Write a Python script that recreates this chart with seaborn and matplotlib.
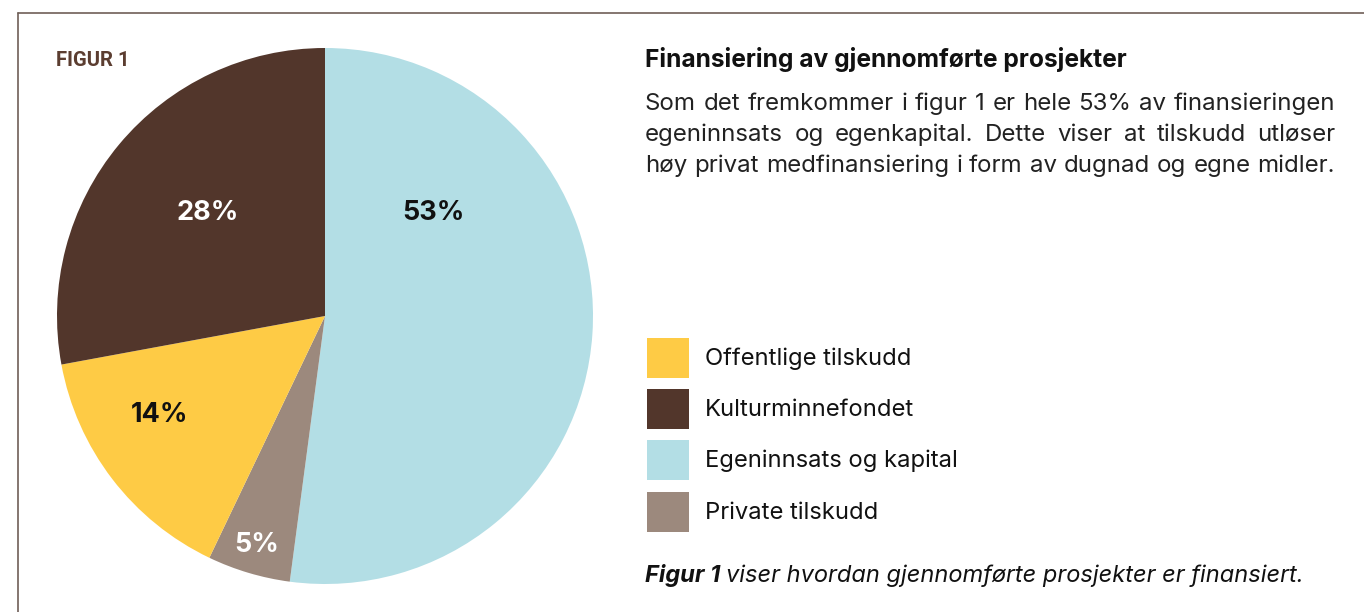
import matplotlib
matplotlib.use("Agg")
import matplotlib.pyplot as plt
import seaborn as sns
from matplotlib.patches import Rectangle
from matplotlib.lines import Line2D
from matplotlib import font_manager as fm

# ---- data ----
categories = ["Egeninnsats og kapital", "Private tilskudd", "Offentlige tilskudd", "Kulturminnefondet"]
shares = [52.1, 5.0, 15.0, 27.9]
pct_labels = ["53%", "5%", "14%", "28%"]
legend_order = ["Offentlige tilskudd", "Kulturminnefondet", "Egeninnsats og kapital", "Private tilskudd"]

fig_label = "FIGUR 1"
title = "Finansiering av gjennomførte prosjekter"
body_lines = [
    "Som det fremkommer i figur 1 er hele 53% av finansieringen",
    "egeninnsats og egenkapital. Dette viser at tilskudd utløser",
    "høy privat medfinansiering i form av dugnad og egne midler.",
]
caption_bold = "Figur 1"
caption_rest = "viser hvordan gjennomførte prosjekter er finansiert."

# ---- styles ----
colors = {
    "Egeninnsats og kapital": "#b3dee5",
    "Private tilskudd": "#9c897d",
    "Offentlige tilskudd": "#fecb45",
    "Kulturminnefondet": "#52362b",
}
label_colors = ["#111111", "white", "#111111", "white"]
label_xy = [(0.403, 0.384), (-0.254, -0.854), (-0.616, -0.369), (-0.437, 0.384)]

sns.set_theme(style="white")

fl = fm.fontManager.ttflist


def has(name, style="normal"):
    return any(f.name == name and f.style == style for f in fl)


main_font = "Inter" if has("Inter") else "Lato"
italic_font = main_font if has(main_font, "italic") else "Open Sans"
plt.rcParams["font.family"] = [main_font, "DejaVu Sans"]

W, H = 1364, 612
fig = plt.figure(figsize=(W / 100, H / 100), dpi=100)
fig.patch.set_facecolor("white")
renderer = fig.canvas.get_renderer()


def fx(px):
    return px / W


def fy(py):
    return 1 - py / H


# frame lines (top and left)
frame_col = "#6f5f58"
fig.add_artist(Line2D([fx(18), 1.0], [fy(13), fy(13)], color=frame_col, lw=1.2))
fig.add_artist(Line2D([fx(18), fx(18)], [fy(13), 0.0], color=frame_col, lw=1.2))

# pie
ax = fig.add_axes([57 / W, 28 / H, 536 / W, 536 / H])
palette = sns.color_palette([colors[c] for c in categories])
ax.pie(shares, colors=palette, startangle=90, counterclock=False, radius=1,
       wedgeprops=dict(linewidth=0))
ax.set_xlim(-1, 1)
ax.set_ylim(-1, 1)
ax.set_aspect("equal")
ax.axis("off")
for lab, (x, y), c in zip(pct_labels, label_xy, label_colors):
    ax.text(x, y, lab, ha="center", va="center", color=c, fontsize=19.5, fontweight="bold")

# figure label, sized to roughly its width in the reference
tl = fig.text(fx(56), fy(66), fig_label, ha="left", va="baseline", color="#5b3d30",
              fontsize=14, fontweight="bold", family=["Roboto", "DejaVu Sans"])
wl = tl.get_window_extent(renderer).width
tl.set_fontsize(min(16.0, 14 * 74 / wl))

# title
fig.text(fx(645), fy(67), title, ha="left", va="baseline", color="#111111",
         fontsize=17.7, fontweight="bold")


def justified(line, x0, x1, ybase, **kw):
    words = line.split()
    texts = [fig.text(0, fy(ybase), w, va="baseline", ha="left", **kw) for w in words]
    widths = [t.get_window_extent(renderer).width for t in texts]
    gap = (x1 - x0 - sum(widths)) / (len(words) - 1)
    x = x0
    for t, w in zip(texts, widths):
        t.set_x(fx(x))
        x += w + gap


for i, line in enumerate(body_lines):
    justified(line, 645, 1335, 110 + 31 * i, fontsize=17.3, color="#222222")

# legend
sq_top = [338, 389, 440, 492]
for cat, top in zip(legend_order, sq_top):
    fig.add_artist(Rectangle((fx(647), fy(top + 40)), 42 / W, 40 / H,
                             transform=fig.transFigure, facecolor=colors[cat], edgecolor="none"))
    fig.text(fx(705), fy(top + 27), cat, ha="left", va="baseline", fontsize=17.1, color="#111111")

# caption
t1 = fig.text(fx(645), fy(582), caption_bold, ha="left", va="baseline", fontsize=17,
              fontweight="bold", style="italic", family=[italic_font, "DejaVu Sans"],
              color="#111111")
w1 = t1.get_window_extent(renderer).width
fig.text(fx(645 + w1 + 6), fy(582), caption_rest, ha="left", va="baseline", fontsize=17,
         style="italic", family=[italic_font, "DejaVu Sans"], color="#111111")

fig.savefig("out.png", dpi=100, facecolor="white")
